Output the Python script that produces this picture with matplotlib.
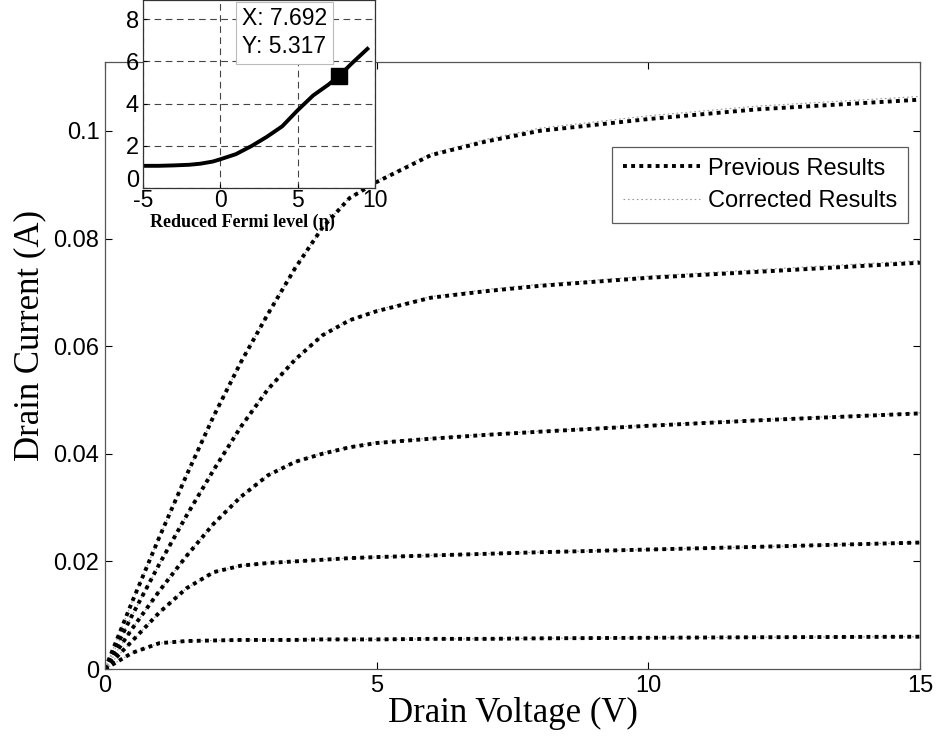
import numpy as np
import matplotlib
matplotlib.use("Agg")
import matplotlib.pyplot as plt
import matplotlib.transforms as mtransforms
from matplotlib.lines import Line2D

# ---------------- data ----------------
vd = [0, 0.5, 1, 1.5, 2, 2.5, 3, 3.5, 4, 4.5, 5, 6, 7, 8, 10, 12, 15]

prev_1 = [0, 0.0125, 0.0245, 0.036, 0.047, 0.057, 0.066, 0.0745, 0.082, 0.0875, 0.0905, 0.0955, 0.098, 0.1000, 0.1022, 0.1040, 0.1058]
prev_2 = [0, 0.0100, 0.0195, 0.0285, 0.0370, 0.0450, 0.0520, 0.0575, 0.0620, 0.0648, 0.0665, 0.0690, 0.0702, 0.0712, 0.0727, 0.0738, 0.0755]
prev_3 = [0, 0.0075, 0.0145, 0.0210, 0.0270, 0.0320, 0.0360, 0.0385, 0.0400, 0.0412, 0.0420, 0.0428, 0.0435, 0.0441, 0.0452, 0.0462, 0.0475]
prev_4 = [0, 0.0052, 0.0105, 0.0150, 0.0180, 0.0192, 0.0197, 0.0200, 0.0203, 0.0206, 0.0208, 0.0211, 0.0214, 0.0217, 0.0222, 0.0227, 0.0235]
prev_5 = [0, 0.0030, 0.0048, 0.0052, 0.0053, 0.0054, 0.0054, 0.0054, 0.0055, 0.0055, 0.0055, 0.0056, 0.0056, 0.0057, 0.0058, 0.0059, 0.0060]

corr_1 = [0, 0.0125, 0.0245, 0.036, 0.047, 0.057, 0.066, 0.0745, 0.082, 0.0876, 0.0907, 0.0958, 0.0984, 0.1005, 0.1028, 0.1046, 0.1064]
corr_2 = [0, 0.0100, 0.0195, 0.0285, 0.0370, 0.0450, 0.0520, 0.0575, 0.0620, 0.0649, 0.0667, 0.0692, 0.0705, 0.0715, 0.0730, 0.0742, 0.0759]
corr_3 = [0, 0.0075, 0.0145, 0.0210, 0.0270, 0.0320, 0.0360, 0.0385, 0.0401, 0.0413, 0.0421, 0.0429, 0.0436, 0.0442, 0.0453, 0.0463, 0.0476]
corr_4 = prev_4
corr_5 = prev_5

prev_series = [prev_1, prev_2, prev_3, prev_4, prev_5]
corr_series = [corr_1, corr_2, corr_3, corr_4, corr_5]

x_ticks = [0, 5, 10, 15]
y_ticks = [0, 0.02, 0.04, 0.06, 0.08, 0.1]
y_ticklabels = ["0", "0.02", "0.04", "0.06", "0.08", "0.1"]

# inset: reduced Fermi level vs ratio
eta = [-5, -4, -3, -2, -1.3, -0.5, 0, 1, 2, 3, 4, 5, 6, 7, 7.692, 8.5, 9.6]
ratio = [1.05, 1.05, 1.07, 1.1, 1.15, 1.25, 1.36, 1.6, 1.98, 2.42, 2.92, 3.68, 4.38, 4.9, 5.317, 5.9, 6.65]
tip_x, tip_y = 7.692, 5.317
inset_xticks = [-5, 0, 5, 10]
inset_yticks = [0, 2, 4, 6, 8]

# ---------------- figure ----------------
W, H = 937, 743
fig = plt.figure(figsize=(W / 100, H / 100), dpi=100)
sans = ["Liberation Sans", "DejaVu Sans"]
serif = ["Liberation Serif", "DejaVu Serif"]

ax = fig.add_axes([105 / W, 1 - 669 / H, 815 / W, (669 - 62) / H])
for c in corr_series:
    ax.plot(vd, c, color="#9a9a9a", lw=0.8, linestyle=(0, (1.5, 2.5)))
for p in prev_series:
    ax.plot(vd, p, color="black", lw=2.8, linestyle=(0, (1, 1.1)),
            dash_capstyle="butt")

ax.set_xlim(0, 15)
ax.set_ylim(0, 0.1128)
ax.set_xticks(x_ticks)
ax.set_xticklabels([str(t) for t in x_ticks], family=sans, fontsize=17)
ax.set_yticks(y_ticks)
ax.set_yticklabels(y_ticklabels, family=sans, fontsize=17)
ax.tick_params(direction="in", length=5, width=0.8, top=True, right=True, pad=4)
for s in ax.spines.values():
    s.set_color("#555555")
    s.set_linewidth(0.9)
ax.set_xlabel("Drain Voltage (V)", family=serif, fontsize=25, labelpad=0)
ax.set_ylabel("Drain Current (A)", family=serif, fontsize=25)
ax.yaxis.set_label_coords(-0.072, 0.55)

handles = [Line2D([], [], color="black", lw=2.8, linestyle=(0, (1, 1.1)), dash_capstyle="butt"),
           Line2D([], [], color="#9a9a9a", lw=0.8, linestyle=(0, (1.5, 2.5)))]
leg = ax.legend(handles, ["Previous Results", "Corrected Results"],
                loc="upper right", bbox_to_anchor=(0.985, 0.86),
                prop={"family": sans, "size": 17}, frameon=True, fancybox=False,
                handlelength=3.25, handletextpad=0.35, labelspacing=0.45,
                borderpad=0.45, borderaxespad=0)
leg.get_frame().set_edgecolor("#333333")
leg.get_frame().set_linewidth(0.9)

# ---------------- inset ----------------
ins = fig.add_axes([143 / W, 1 - 188 / H, 232 / W, 188 / H])
ins.plot(eta, ratio, color="black", lw=2.8, solid_capstyle="butt")
ins.plot([tip_x], [tip_y], marker="s", color="black", markersize=12, linestyle="none")
ins.set_xlim(-5, 10)
ins.set_ylim(0, 8.9)
ins.set_xticks(inset_xticks)
ins.set_yticks(inset_yticks)
ins.set_xticklabels([str(t) for t in inset_xticks], family=sans, fontsize=16.5)
ins.set_yticklabels([str(t) for t in inset_yticks], family=sans, fontsize=17)
ins.tick_params(axis="x", direction="in", length=3, width=0.8, pad=0.5)
ins.tick_params(axis="y", direction="in", length=3, width=0.8, pad=3)
ins.grid(True, linestyle=(0, (6, 4)), color="#444444", lw=0.8)
for s in ins.spines.values():
    s.set_color("#333333")
    s.set_linewidth(0.9)
# lift the "0" y label a little, as in the reference
zero_lbl = ins.get_yticklabels()[0]
zero_lbl.set_transform(zero_lbl.get_transform() +
                       mtransforms.ScaledTranslation(0, 7 / 72, fig.dpi_scale_trans))
ins.set_xlabel("Reduced Fermi level (\u03b7)", family=serif, fontsize=13,
               fontweight="bold")
ins.xaxis.set_label_coords(0.43, -0.135)
ins.xaxis.label.set_va("top")
ins.text(1.4, 8.55, "X: 7.692\nY: 5.317", family=sans, fontsize=16.5, va="top", ha="left",
         linespacing=1.25,
         bbox=dict(boxstyle="square,pad=0.25", facecolor="white", edgecolor="#bbbbbb", lw=0.8))

fig.savefig("out.png", dpi=100)
